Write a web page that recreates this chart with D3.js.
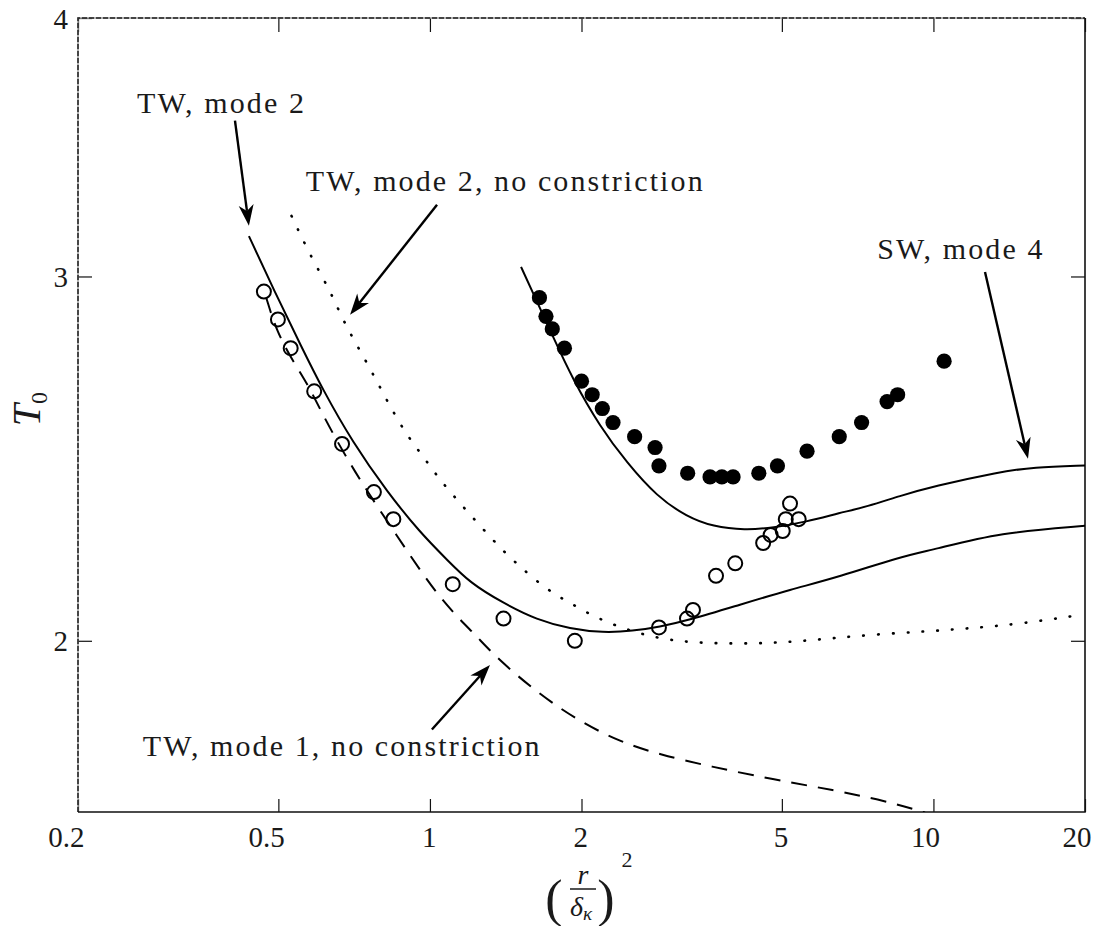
<!DOCTYPE html>
<html>
<head>
<meta charset="utf-8">
<script src="https://cdn.jsdelivr.net/npm/d3@7"></script>
<style>
body { margin: 0; background: #fff; }
text { font-family: "Liberation Serif", "DejaVu Serif", serif; fill: #1a1a1a; }
</style>
</head>
<body>
<div id="chart"></div>
<script>
// measured points (open circles)
var openX = [0.468, 0.499, 0.529, 0.589, 0.669, 0.774, 0.846, 1.11, 1.40, 1.94, 2.85, 3.24, 3.33, 3.70, 4.04, 4.59, 4.75, 5.02, 5.09, 5.19, 5.40];
var openY = [2.95, 2.86, 2.77, 2.64, 2.49, 2.36, 2.29, 2.13, 2.05, 2.00, 2.03, 2.05, 2.07, 2.15, 2.18, 2.23, 2.25, 2.26, 2.29, 2.33, 2.29];

// measured points (filled circles)
var filledX = [1.65, 1.70, 1.75, 1.85, 2.00, 2.10, 2.20, 2.31, 2.55, 2.80, 2.85, 3.25, 3.60, 3.80, 4.00, 4.50, 4.90, 5.61, 6.50, 7.20, 8.09, 8.49, 10.5];
var filledY = [2.93, 2.87, 2.83, 2.77, 2.67, 2.63, 2.59, 2.55, 2.51, 2.48, 2.43, 2.41, 2.40, 2.40, 2.40, 2.41, 2.43, 2.47, 2.51, 2.55, 2.61, 2.63, 2.73];

// TW, mode 2 (solid)
var mode2X = [0.437, 0.492, 0.557, 0.610, 0.703, 0.822, 0.956, 1.081, 1.201, 1.397, 1.632, 1.898, 2.206, 2.532, 2.851, 3.285, 4.128, 5.19, 6.52, 8.58, 9.98, 13.56, 20];
var mode2Y = [3.138, 2.948, 2.771, 2.650, 2.493, 2.361, 2.256, 2.189, 2.133, 2.086, 2.047, 2.027, 2.018, 2.022, 2.031, 2.047, 2.082, 2.117, 2.148, 2.196, 2.213, 2.256, 2.273];

// SW, mode 4 (solid)
var mode4X = [1.517, 1.602, 1.756, 1.924, 2.177, 2.462, 2.825, 3.240, 3.648, 4.224, 4.802, 5.584, 6.52, 7.38, 8.58, 9.98, 13.56, 15.76, 20];
var mode4Y = [3.032, 2.946, 2.805, 2.674, 2.538, 2.438, 2.348, 2.296, 2.271, 2.262, 2.268, 2.283, 2.306, 2.322, 2.350, 2.375, 2.414, 2.426, 2.431];

// TW, mode 2, no constriction (dotted)
var noConstr2X = [0.531, 0.582, 0.633, 0.678, 0.749, 0.833, 0.899, 0.970, 1.047, 1.147, 1.378, 1.510, 1.706, 1.898, 2.144, 2.460, 2.778, 3.236, 4.192, 5.19, 6.33, 7.83, 9.70, 11.82, 14.63, 19.25];
var noConstr2Y = [3.209, 3.062, 2.955, 2.843, 2.728, 2.596, 2.515, 2.455, 2.392, 2.331, 2.217, 2.172, 2.117, 2.086, 2.051, 2.025, 2.008, 1.996, 1.993, 1.997, 2.006, 2.015, 2.021, 2.028, 2.037, 2.057];

// TW, mode 1, no constriction (dashed)
var mode1X = [0.473, 0.496, 0.535, 0.573, 0.610, 0.699, 0.879, 0.956, 1.031, 1.130, 1.239, 1.357, 1.654, 1.986, 2.386, 2.864, 3.598, 4.809, 6.33, 8.08, 9.62];
var mode1Y = [2.930, 2.822, 2.729, 2.659, 2.577, 2.424, 2.230, 2.164, 2.109, 2.055, 2.010, 1.962, 1.883, 1.828, 1.787, 1.762, 1.739, 1.714, 1.694, 1.673, 1.652];

// ticks
var xTicks = [0.2, 0.5, 1, 2, 5, 10, 20];
var xTickLabels = ["0.2", "0.5", "1", "2", "5", "10", "20"];
var yTicks = [2, 3, 4];
var yTickLabels = ["2", "3", "4"];

// annotations
var annoText = ["TW, mode 2", "TW, mode 2, no constriction", "SW, mode 4", "TW, mode 1, no constriction"];
var annoTextX = [0.262, 0.567, 7.73, 0.269];
var annoTextY = [3.60, 3.30, 3.059, 1.760];
var arrowFromX = [0.410, 1.033, 12.66, 1.009];
var arrowFromY = [3.568, 3.249, 3.015, 1.812];
var arrowToX = [0.437, 0.694, 15.41, 1.316];
var arrowToY = [3.174, 2.875, 2.449, 1.947];

var margin = {top: 18, right: 19, bottom: 114, left: 78},
    width = 1104 - margin.left - margin.right,
    height = 926 - margin.top - margin.bottom;

var svg = d3.select("#chart").append("svg")
    .attr("width", 1104)
    .attr("height", 926)
    .append("g")
    .attr("transform", "translate(" + margin.left + "," + margin.top + ")");

var x = d3.scaleLog().domain([0.2, 20]).range([0, width]);
var y = d3.scaleLog().domain([1.653, 4]).range([height, 0]);

svg.append("clipPath").attr("id", "plotClip")
    .append("rect").attr("width", width).attr("height", height);

function zip(xs, ys) {
    return xs.map(function(d, i) { return {x: d, y: ys[i]}; });
}

// Add X axis
var xAxis = svg.append("g")
    .attr("transform", "translate(0," + height + ")")
    .call(d3.axisBottom(x).tickValues(xTicks)
        .tickFormat(function(d, i) { return xTickLabels[i]; })
        .tickSizeInner(-13).tickSizeOuter(0));
xAxis.selectAll("text")
    .attr("y", 35).attr("dy", 0).attr("x", 6)
    .attr("text-anchor", "end")
    .style("font-size", "29px").style("font-family", "Liberation Serif");

svg.append("g")
    .call(d3.axisTop(x).tickValues(xTicks).tickFormat("")
        .tickSizeInner(-14).tickSizeOuter(0));

// Add Y axis
var yAxis = svg.append("g")
    .call(d3.axisLeft(y).tickValues(yTicks)
        .tickFormat(function(d, i) { return yTickLabels[i]; })
        .tickSizeInner(-14).tickSizeOuter(0));
yAxis.selectAll("text")
    .attr("x", -10).attr("dy", "0.35em")
    .attr("text-anchor", "end")
    .style("font-size", "29px").style("font-family", "Liberation Serif");

svg.append("g")
    .attr("transform", "translate(" + width + ",0)")
    .call(d3.axisRight(y).tickValues(yTicks).tickFormat("")
        .tickSizeInner(-14).tickSizeOuter(0));

svg.selectAll(".domain").remove();
svg.selectAll(".tick line").attr("stroke", "#111").attr("stroke-width", 1.2);

// frame: top and left dashed, bottom and right solid
svg.append("path")
    .attr("d", "M0," + height + "V0H" + width)
    .attr("fill", "none").attr("stroke", "#999").attr("stroke-width", 1.5);
svg.append("path")
    .attr("d", "M0," + height + "V0H" + width)
    .attr("fill", "none").attr("stroke", "#222").attr("stroke-width", 1.5)
    .style("stroke-dasharray", "5,2");
svg.append("path")
    .attr("d", "M0," + height + "H" + width + "V0")
    .attr("fill", "none").attr("stroke", "#111").attr("stroke-width", 1.6);

// curves
var line = d3.line()
    .x(function(d) { return x(d.x); })
    .y(function(d) { return y(d.y); })
    .curve(d3.curveBasis);

var curves = svg.append("g").attr("clip-path", "url(#plotClip)");

curves.append("path").datum(zip(mode2X, mode2Y))
    .attr("d", line).attr("fill", "none").attr("stroke", "#000").attr("stroke-width", 2);

curves.append("path").datum(zip(mode4X, mode4Y))
    .attr("d", line).attr("fill", "none").attr("stroke", "#000").attr("stroke-width", 2);

curves.append("path").datum(zip(noConstr2X, noConstr2Y))
    .attr("d", line).attr("fill", "none").attr("stroke", "#000").attr("stroke-width", 2.6)
    .attr("stroke-linecap", "round")
    .style("stroke-dasharray", "0.6,14.2");

curves.append("path").datum(zip(mode1X, mode1Y))
    .attr("d", line).attr("fill", "none").attr("stroke", "#000").attr("stroke-width", 2)
    .style("stroke-dasharray", "16,11");

// open circles
svg.selectAll("circle.open")
    .data(zip(openX, openY))
    .enter()
    .append("circle")
    .attr("class", "open")
    .attr("cx", function(d) { return x(d.x); })
    .attr("cy", function(d) { return y(d.y); })
    .attr("r", 7)
    .attr("fill", "none")
    .attr("stroke", "#000")
    .attr("stroke-width", 2);

// filled circles
svg.selectAll("circle.filled")
    .data(zip(filledX, filledY))
    .enter()
    .append("circle")
    .attr("class", "filled")
    .attr("cx", function(d) { return x(d.x); })
    .attr("cy", function(d) { return y(d.y); })
    .attr("r", 7.6)
    .attr("fill", "#000");

// annotation arrows
function arrowHead(x1, y1, x2, y2) {
    var dx = x2 - x1, dy = y2 - y1, len = Math.sqrt(dx * dx + dy * dy);
    var ux = dx / len, uy = dy / len, nx = -uy, ny = ux;
    var L = 21, W = 7.5, N = 15;
    return "M" + x2 + "," + y2 +
        "L" + (x2 - ux * L + nx * W) + "," + (y2 - uy * L + ny * W) +
        "L" + (x2 - ux * N) + "," + (y2 - uy * N) +
        "L" + (x2 - ux * L - nx * W) + "," + (y2 - uy * L - ny * W) + "Z";
}

annoText.forEach(function(t, i) {
    var x1 = x(arrowFromX[i]), y1 = y(arrowFromY[i]),
        x2 = x(arrowToX[i]), y2 = y(arrowToY[i]);
    var dx = x2 - x1, dy = y2 - y1, len = Math.sqrt(dx * dx + dy * dy);
    svg.append("line")
        .attr("x1", x1).attr("y1", y1)
        .attr("x2", x2 - dx / len * 15).attr("y2", y2 - dy / len * 15)
        .attr("stroke", "#000").attr("stroke-width", 2.4);
    svg.append("path")
        .attr("d", arrowHead(x1, y1, x2, y2))
        .attr("fill", "#000");
    svg.append("text")
        .attr("x", x(annoTextX[i]))
        .attr("y", y(annoTextY[i]))
        .style("font-size", "30px")
        .style("letter-spacing", "2.1px")
        .text(t);
});

// Y axis label: T_0
var yLabel = svg.append("text")
    .attr("transform", "translate(" + (40 - margin.left) + "," + (409 - margin.top) + ") rotate(-90)")
    .attr("text-anchor", "middle");
yLabel.append("tspan").style("font-size", "40px").style("font-style", "italic").text("T");
yLabel.append("tspan").style("font-size", "24px").attr("dy", 7).text("0");

// X axis label: (r / delta_kappa)^2
var xl = svg.append("g").attr("transform", "translate(" + (-margin.left) + "," + (-margin.top) + ")");
xl.append("text").attr("x", 554).attr("y", 916).attr("text-anchor", "middle")
    .style("font-size", "52px").text("(");
xl.append("text").attr("x", 606).attr("y", 916).attr("text-anchor", "middle")
    .style("font-size", "52px").text(")");
xl.append("text").attr("x", 583).attr("y", 884).attr("text-anchor", "middle")
    .style("font-size", "28px").style("font-style", "italic").text("r");
xl.append("line").attr("x1", 570).attr("x2", 596).attr("y1", 889).attr("y2", 889)
    .attr("stroke", "#1a1a1a").attr("stroke-width", 1.5);
var den = xl.append("text").attr("x", 570).attr("y", 916)
    .style("font-size", "28px").style("font-style", "italic");
den.append("tspan").text("δ");
den.append("tspan").attr("dy", 4).style("font-size", "19px").text("κ");
xl.append("text").attr("x", 627).attr("y", 867).attr("text-anchor", "middle")
    .style("font-size", "22px").text("2");
</script>
</body>
</html>
